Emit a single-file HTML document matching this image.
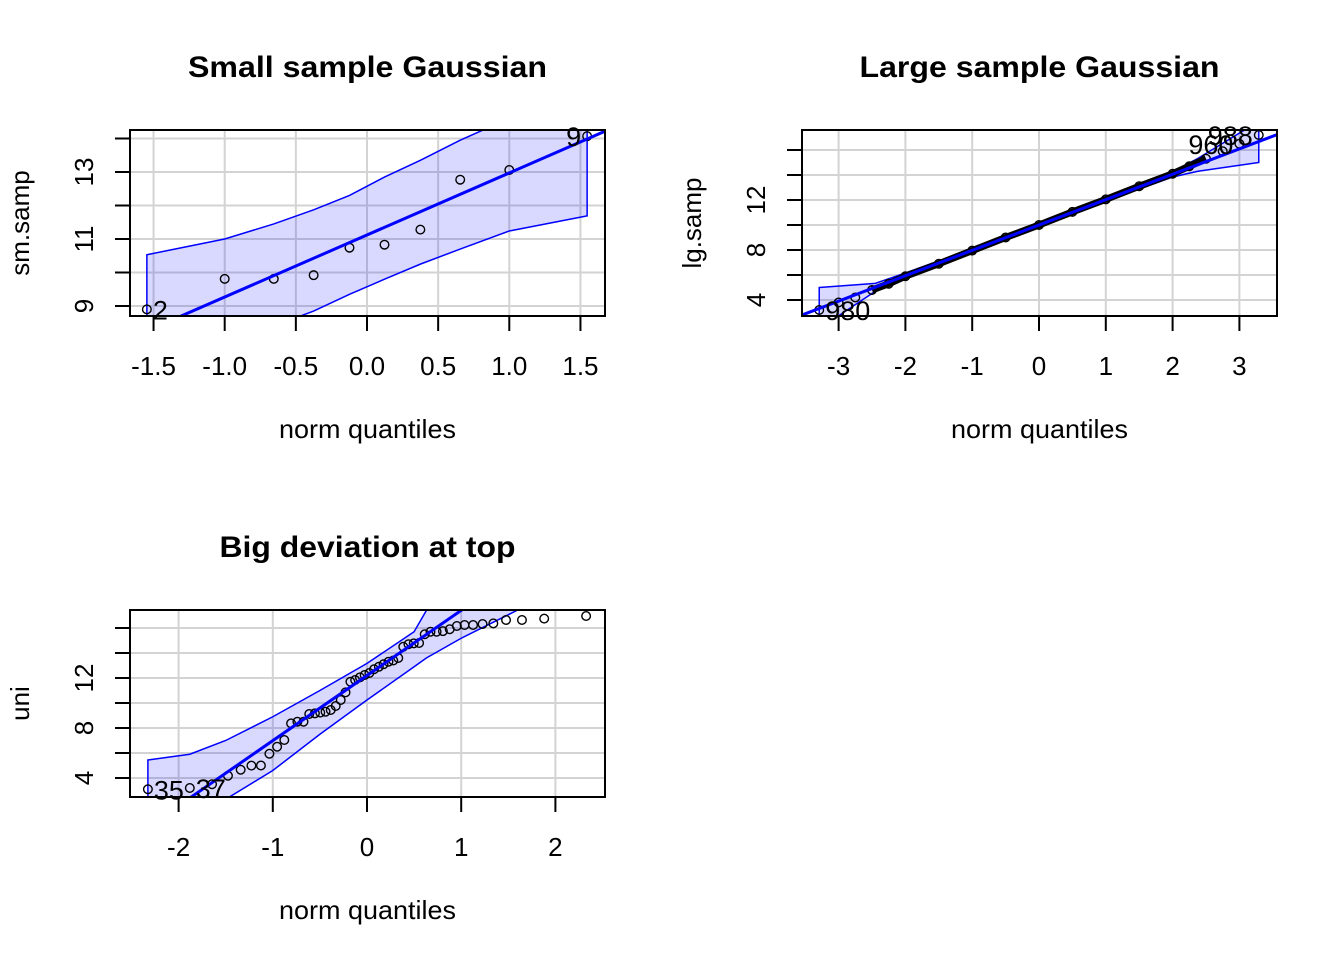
<!DOCTYPE html>
<html><head><meta charset="utf-8"><style>
html,body{margin:0;padding:0;background:#fff;}
svg text{font-family:"Liberation Sans",sans-serif;fill:#000;}
</style></head><body>
<svg id="root" xmlns="http://www.w3.org/2000/svg" width="1344" height="960" viewBox="0 0 1344 960">
<rect width="1344" height="960" fill="#fff"/>
</svg>
<script>
// ---- Panel 1 data: small sample ----
const p1X = [-1.547,-1.0,-0.655,-0.375,-0.123,0.123,0.375,0.655,1.0,1.547];
const p1Y = [8.90,9.81,9.81,9.92,10.74,10.83,11.28,12.77,13.06,14.07];
const p1BandUpper = [10.53,11.0,11.45,11.87,12.3,12.85,13.35,13.95,14.6,15.5];
const p1BandLower = [7.0,7.8,8.4,8.85,9.35,9.8,10.25,10.7,11.24,11.69];
const p1Line = [11.12,1.852];
const p1XTicks = [-1.5,-1.0,-0.5,0.0,0.5,1.0,1.5];
const p1XTickLabels = ["-1.5","-1.0","-0.5","0.0","0.5","1.0","1.5"];
const p1YTicks = [9,10,11,12,13,14];
const p1YTickLabels = ["9","","11","","13",""];
const p1PointLabels = [[0,"2","right"],[9,"9","left"]];

// ---- Panel 2 data: large sample ----
const p2X = [-3.29,-3.0,-2.75,-2.5,-2.25,-2.0,-1.5,-1.0,-0.5,0,0.5,1.0,1.5,2.0,2.25,2.5,2.75,3.0,3.29];
const p2Y = [3.2,3.8,4.2,4.8,5.3,5.9,6.9,7.95,9.0,10.0,11.05,12.05,13.1,14.1,14.7,15.3,15.9,16.5,17.2];
const p2BandX = [-3.29,-2.45,-2.0,-1.0,0,1.0,2.0,2.38,3.29];
const p2BandUpper = [5.0,5.33,6.16,8.1,10.1,12.16,14.28,15.33,18.3];
const p2BandLower = [1.7,4.7,5.8,7.84,9.9,11.9,13.84,14.3,15.0];
const p2Line = [10.0,2.03];
const p2XTicks = [-3,-2,-1,0,1,2,3];
const p2XTickLabels = ["-3","-2","-1","0","1","2","3"];
const p2YTicks = [4,6,8,10,12,14,16];
const p2YTickLabels = ["4","","8","","12","",""];
const p2PointLabels = [[0,"980","right"],[18,"988","left"],[17,"960","left"]];

// ---- Panel 3 data: uniform ----
const p3X = [-2.326,-1.881,-1.645,-1.476,-1.341,-1.227,-1.126,-1.036,-0.954,-0.878,-0.806,-0.739,-0.674,-0.613,-0.553,-0.496,-0.440,-0.385,-0.332,-0.279,-0.228,-0.176,-0.126,-0.075,-0.025,0.025,0.075,0.126,0.176,0.228,0.279,0.332,0.385,0.440,0.496,0.553,0.613,0.674,0.739,0.806,0.878,0.954,1.036,1.126,1.227,1.341,1.476,1.645,1.881,2.326];
const p3Y = [3.1,3.2,3.5,4.18,4.66,4.99,5.0,5.94,6.5,7.04,8.37,8.5,8.5,9.12,9.17,9.23,9.3,9.44,9.76,10.24,10.85,11.7,11.84,12.05,12.24,12.4,12.7,12.9,13.1,13.3,13.4,13.6,14.5,14.7,14.77,14.8,15.5,15.7,15.7,15.75,15.9,16.16,16.24,16.24,16.32,16.37,16.64,16.64,16.75,16.96];
const p3BandX = [-2.326,-1.881,-1.5,-1.0,-0.5,0,0.5,0.63,1.0,1.6,2.326];
const p3BandUpper = [5.44,5.9,7.0,8.9,11.0,13.17,15.7,17.4,19.5,23,27];
const p3BandLower = [-3,0.3,2.3,4.6,7.5,10.24,12.9,13.6,15.18,17.44,20];
const p3Line = [12.2,5.21];
const p3XTicks = [-2,-1,0,1,2];
const p3XTickLabels = ["-2","-1","0","1","2"];
const p3YTicks = [4,6,8,10,12,14,16];
const p3YTickLabels = ["4","","8","","12","",""];
const p3PointLabels = [[0,"35","right"],[1,"37","right"]];

const NS = "http://www.w3.org/2000/svg";
const root = document.getElementById("root");
function mk(tag, attrs, parent){
  const e = document.createElementNS(NS, tag);
  for (const k in attrs) e.setAttribute(k, attrs[k]);
  (parent||root).appendChild(e);
  return e;
}

function panel(cfg){
  const g = mk("g",{});
  
  
  const L=cfg.box[0], T=cfg.box[1], R=cfg.box[2], B=cfg.box[3];
  const sx = v => cfg.x0 + v*cfg.xs;
  const sy = v => cfg.y0 - (v-cfg.yv0)*cfg.ys;
  const cid = cfg.name+"-clip";
  const cp = mk("clipPath",{id:cid},g);
  mk("rect",{x:L,y:T,width:R-L,height:B-T},cp);
  const grid = mk("g",{stroke:"#d3d3d3","stroke-width":2},g);
  
  
  cfg.xt.forEach(v=>mk("line",{x1:sx(v),x2:sx(v),y1:T,y2:B},grid));
  cfg.yt.forEach(v=>mk("line",{x1:L,x2:R,y1:sy(v),y2:sy(v)},grid));
  const pg = mk("g",{"clip-path":"url(#"+cid+")"},g);
  const bx = cfg.bandX, up=cfg.up, lo=cfg.lo;
  let d = "M"+bx.map((v,i)=>sx(v)+","+sy(up[i])).join(" L");
  for (let i=bx.length-1;i>=0;i--) d += " L"+sx(bx[i])+","+sy(lo[i]);
  d += " Z";
  const band = mk("path",{d:d,fill:"rgba(0,0,255,0.15)",stroke:"#0000ff","stroke-width":1.5},pg);
  
  
  if (cfg.dense){
    const idx = cfg.px.map((v,i)=>i).filter(i=>Math.abs(cfg.px[i])<=2.6);
    const cl = mk("polyline",{points:idx.map(i=>sx(cfg.px[i])+","+sy(cfg.py[i])).join(" "),fill:"none",stroke:"#000","stroke-width":7},pg);
    
    
  }
  const pts = mk("g",{fill:"none",stroke:"#000","stroke-width":1.4},pg);
  
  
  cfg.px.forEach((v,i)=>{
    const c = mk("circle",{cx:sx(v),cy:sy(cfg.py[i]),r:4.3},pts);
    
    
  });
  const xa = (L-cfg.x0)/cfg.xs, xb=(R-cfg.x0)/cfg.xs;
  const ln = mk("line",{x1:sx(xa),y1:sy(cfg.line[0]+cfg.line[1]*xa),x2:sx(xb),y2:sy(cfg.line[0]+cfg.line[1]*xb),stroke:"#0000ff","stroke-width":3},pg);
  
  
  cfg.plabels.forEach(p=>{
    const x = sx(cfg.px[p[0]]), y = sy(cfg.py[p[0]]);
    const t = mk("text",{x: p[2]==="right"? x+6 : x-6, y:y+10, "font-size":27, "text-anchor": p[2]==="right"?"start":"end", fill:"#000"},g);
    t.textContent = p[1];
    
    
  });
  const bxr = mk("rect",{x:L,y:T,width:R-L,height:B-T,fill:"none",stroke:"#000","stroke-width":2},g);
  
  
  const xax = mk("g",{},g);
  
  
  cfg.xt.forEach((v,i)=>{
    mk("line",{x1:sx(v),x2:sx(v),y1:B,y2:B+15,stroke:"#000","stroke-width":2},xax);
    const t = mk("text",{x:sx(v),y:B+59,"font-size":26,"text-anchor":"middle"},xax);
    t.textContent = cfg.xl[i];
    
    
  });
  const yax = mk("g",{},g);
  
  
  cfg.yt.forEach((v,i)=>{
    mk("line",{x1:L-15,x2:L,y1:sy(v),y2:sy(v),stroke:"#000","stroke-width":2},yax);
    if (cfg.yl[i]){
      const xx = L-37;
      const t = mk("text",{x:xx,y:sy(v),"font-size":26,"text-anchor":"middle",transform:"rotate(-90 "+xx+" "+sy(v)+")"},yax);
      t.textContent = cfg.yl[i];
      
      
    }
  });
  const cx = (L+R)/2;
  const tt = mk("text",{x:cx,y:T-53,"font-size":30,"font-weight":"bold","text-anchor":"middle",textLength:cfg.titleW,lengthAdjust:"spacingAndGlyphs"},g);
  tt.textContent = cfg.title;
  
  
  const xl = mk("text",{x:cx,y:B+122,"font-size":26,"text-anchor":"middle",textLength:177,lengthAdjust:"spacingAndGlyphs"},g);
  xl.textContent = "norm quantiles";
  
  
  const yx = L-101, yy=(T+B)/2;
  const yl = mk("text",{x:yx,y:yy,"font-size":26,"text-anchor":"middle",transform:"rotate(-90 "+yx+" "+yy+")"},g);
  yl.textContent = cfg.ylab;
  
  
}

panel({name:"small-sample-panel",box:[130,130,605,316],x0:367,xs:142.3,y0:306,yv0:9,ys:33.5,
  px:p1X,py:p1Y,bandX:p1X,up:p1BandUpper,lo:p1BandLower,line:p1Line,xt:p1XTicks,xl:p1XTickLabels,yt:p1YTicks,yl:p1YTickLabels,
  plabels:p1PointLabels,title:"Small sample Gaussian",titleW:359,ylab:"sm.samp"});
panel({name:"large-sample-panel",box:[802,130,1277,316],x0:1039,xs:66.8,y0:300,yv0:4,ys:12.5,dense:true,
  px:p2X,py:p2Y,bandX:p2BandX,up:p2BandUpper,lo:p2BandLower,line:p2Line,xt:p2XTicks,xl:p2XTickLabels,yt:p2YTicks,yl:p2YTickLabels,
  plabels:p2PointLabels,title:"Large sample Gaussian",titleW:360,ylab:"lg.samp"});
panel({name:"big-deviation-panel",box:[130,610,605,797],x0:367,xs:94.2,y0:778,yv0:4,ys:12.5,
  px:p3X,py:p3Y,bandX:p3BandX,up:p3BandUpper,lo:p3BandLower,line:p3Line,xt:p3XTicks,xl:p3XTickLabels,yt:p3YTicks,yl:p3YTickLabels,
  plabels:p3PointLabels,title:"Big deviation at top",titleW:296,ylab:"uni"});
</script>
</body></html>
